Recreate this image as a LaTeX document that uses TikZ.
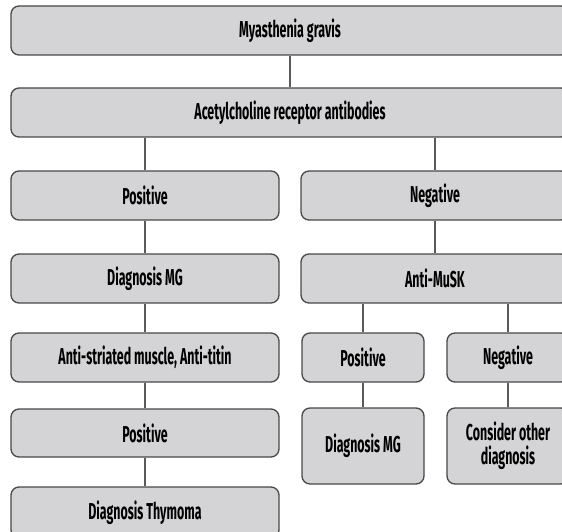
\documentclass[tikz,border=0pt]{standalone}
\usepackage{fontspec}
\setmainfont{Fira Sans}[FakeStretch=0.54]
\definecolor{boxfill}{RGB}{212,212,214}
\definecolor{boxline}{RGB}{72,72,72}
\definecolor{conn}{RGB}{90,90,90}
\begin{document}
\begin{tikzpicture}[x=1pt,y=-1pt,
  fbox/.style={draw=boxline,fill=boxfill,line width=1.3pt,rounded corners=8pt,
    inner sep=0pt,align=center,font=\fontsize{23}{24}\selectfont\bfseries},
  link/.style={draw=conn,line width=1.1pt}]
\useasboundingbox (0,0) rectangle (562,532);
\clip (0,0) rectangle (562,532);
\node[fbox,minimum width=558pt,minimum height=49pt] (mg) at (290,30.5) {Myasthenia gravis};
\node[fbox,minimum width=558pt,minimum height=49pt] (ach) at (290,112.5) {Acetylcholine receptor antibodies};
\node[fbox,minimum width=268pt,minimum height=49pt] (pos) at (145,195.5) {Positive};
\node[fbox,minimum width=268pt,minimum height=49pt] (neg) at (435,195.5) {Negative};
\node[fbox,minimum width=268pt,minimum height=49pt] (dmg) at (145,278.5) {Diagnosis MG};
\node[fbox,minimum width=268pt,minimum height=49pt] (musk) at (435,278.5) {Anti-MuSK};
\node[fbox,minimum width=268pt,minimum height=49pt] (anti) at (145,357.5) {Anti-striated muscle, Anti-titin};
\node[fbox,minimum width=122pt,minimum height=49pt] (pos2) at (363,357.5) {Positive};
\node[fbox,minimum width=122pt,minimum height=49pt] (neg2) at (508,357.5) {Negative};
\node[fbox,minimum width=268pt,minimum height=48pt] (pos3) at (145,433) {Positive};
\node[fbox,minimum width=122pt,minimum height=76pt] (dmg2) at (363,446) {Diagnosis MG};
\node[fbox,minimum width=122pt,minimum height=76pt] (cons) at (508,446) {Consider other\\diagnosis};
\node[fbox,minimum width=268pt,minimum height=51pt] (thy) at (145,512.5) {Diagnosis Thymoma};
\path[link] (mg.south) -- (ach.north);
\path[link] (ach.south -| pos.north) -- (pos.north);
\path[link] (ach.south -| neg.north) -- (neg.north);
\path[link] (pos.south) -- (dmg.north);
\path[link] (dmg.south) -- (anti.north);
\path[link] (anti.south) -- (pos3.north);
\path[link] (pos3.south) -- (thy.north);
\path[link] (neg.south) -- (musk.north);
\path[link] (musk.south -| pos2.north) -- (pos2.north);
\path[link] (musk.south -| neg2.north) -- (neg2.north);
\path[link] (pos2.south) -- (dmg2.north);
\path[link] (neg2.south) -- (cons.north);
\end{tikzpicture}
\end{document}
